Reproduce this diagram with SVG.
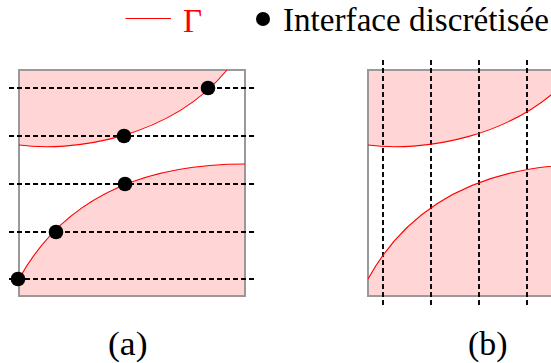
<svg xmlns="http://www.w3.org/2000/svg" width="551" height="363" viewBox="0 0 551 363">
<style>
.fill{fill:#ffd5d5;stroke:none}
.curve{fill:none;stroke:#ff0000;stroke-width:1.1}
.box{fill:none;stroke:#999999;stroke-width:2}
.dash{stroke:#000;stroke-width:1.9;stroke-dasharray:5 3;fill:none}
.dot{fill:#000}
</style>
<rect width="551" height="363" fill="#fff"/>
<g id="legend">
  <line x1="125.5" y1="18.5" x2="171" y2="18.5" stroke="#ff0000" stroke-width="1.2"/>
  <text x="183" y="31.5" font-family="'Liberation Serif', serif" font-size="33" fill="#ff0000">Γ</text>
  <circle class="dot" cx="263" cy="19" r="7"/>
  <text x="283" y="31" font-family="'Liberation Serif', serif" font-size="33" fill="#000" textLength="266" lengthAdjust="spacingAndGlyphs">Interface discrétisée</text>
</g>
<g id="panel-a">
  <path class="fill" d="M19,70 L19,145 C69,152 169,140 227,70 Z"/>
  <path class="fill" d="M19,279 C69,188 159,164 245,164 L245,296 L19,296 Z"/>
  <rect class="box" x="19" y="70" width="226" height="226"/>
  <g class="dash">
    <line x1="9" y1="88" x2="257" y2="88"/>
    <line x1="9" y1="136" x2="257" y2="136"/>
    <line x1="9" y1="184" x2="257" y2="184"/>
    <line x1="9" y1="232" x2="257" y2="232"/>
    <line x1="9" y1="279" x2="257" y2="279"/>
  </g>
  <path class="curve" d="M19,145 C69,152 169,140 227,70"/>
  <path class="curve" d="M19,279 C69,188 159,164 245,164"/>
  <circle class="dot" cx="208" cy="88" r="7.3"/>
  <circle class="dot" cx="124" cy="136" r="7.3"/>
  <circle class="dot" cx="125" cy="184" r="7.3"/>
  <circle class="dot" cx="56" cy="232" r="7.3"/>
  <circle class="dot" cx="18" cy="279" r="7.3"/>
</g>
<g id="panel-b">
  <path class="fill" d="M368,70 L368,145 C418,152 518,140 576,70 Z"/>
  <path class="fill" d="M368,279 C418,188 508,164 594,164 L594,296 L368,296 Z"/>
  <rect class="box" x="368" y="70" width="226" height="226"/>
  <g class="dash">
    <line x1="383" y1="60" x2="383" y2="308"/>
    <line x1="431" y1="60" x2="431" y2="308"/>
    <line x1="479" y1="60" x2="479" y2="308"/>
    <line x1="527" y1="60" x2="527" y2="308"/>
  </g>
  <path class="curve" d="M368,145 C418,152 518,140 576,70"/>
  <path class="curve" d="M368,279 C418,188 508,164 594,164"/>
</g>
<g id="labels">
  <text x="108" y="355" font-family="'Liberation Serif', serif" font-size="33" fill="#000" textLength="39.5" lengthAdjust="spacingAndGlyphs">(a)</text>
  <text x="468" y="355" font-family="'Liberation Serif', serif" font-size="33" fill="#000" textLength="39.5" lengthAdjust="spacingAndGlyphs">(b)</text>
</g>
</svg>
